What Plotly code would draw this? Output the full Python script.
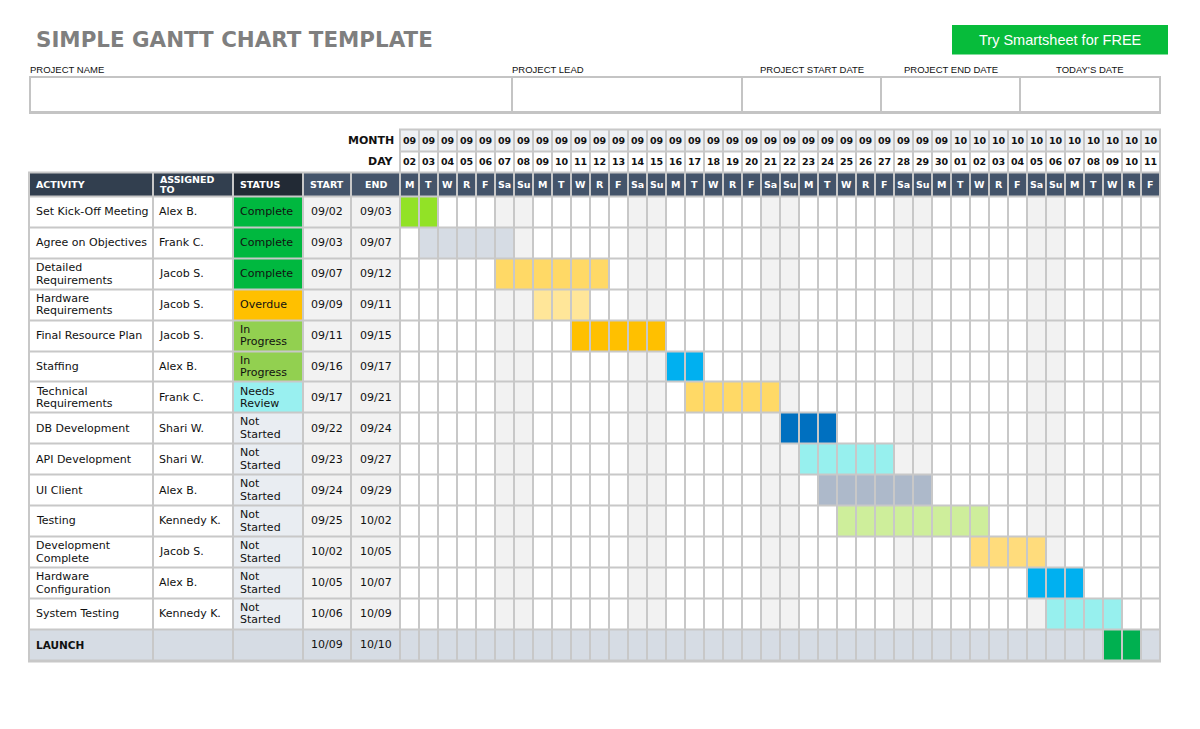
import plotly.graph_objects as go
import pandas as pd

# ---------------- data ----------------
year = 2019
title_text = "SIMPLE GANTT CHART TEMPLATE"
button_text = "Try Smartsheet for FREE"
project_fields = ["PROJECT NAME", "PROJECT LEAD", "PROJECT START DATE", "PROJECT END DATE", "TODAY\u2019S DATE"]
column_headers = ["ACTIVITY", "ASSIGNED TO", "STATUS", "START", "END"]
weekday_letters = ["M", "T", "W", "R", "F", "Sa", "Su"]
timeline_first = "09/02"
timeline_last = "10/11"

activities = ["Set Kick-Off Meeting", "Agree on Objectives", "Detailed Requirements",
              "Hardware Requirements", "Final Resource Plan", "Staffing",
              "Technical Requirements", "DB Development", "API Development", "UI Client",
              "Testing", "Development Complete", "Hardware Configuration", "System Testing",
              "LAUNCH"]
assigned_to = ["Alex B.", "Frank C.", "Jacob S.", "Jacob S.", "Jacob S.", "Alex B.", "Frank C.",
               "Shari W.", "Shari W.", "Alex B.", "Kennedy K.", "Jacob S.", "Alex B.",
               "Kennedy K.", ""]
statuses = ["Complete", "Complete", "Complete", "Overdue", "In Progress", "In Progress",
            "Needs Review", "Not Started", "Not Started", "Not Started", "Not Started",
            "Not Started", "Not Started", "Not Started", ""]
start_dates = ["09/02", "09/03", "09/07", "09/09", "09/11", "09/16", "09/17", "09/22", "09/23",
               "09/24", "09/25", "10/02", "10/05", "10/06", "10/09"]
end_dates = ["09/03", "09/07", "09/12", "09/11", "09/15", "09/17", "09/21", "09/24", "09/27",
             "09/29", "10/02", "10/05", "10/07", "10/09", "10/10"]

# ---------------- styles ----------------
bar_colors = ["#92e226", "#d6dce4", "#ffd966", "#ffe699", "#ffc000", "#00b0f0", "#ffd966",
              "#0070c0", "#97f0ee", "#adb9ca", "#ceee9b", "#ffdc7c", "#00b0f0", "#97f0ee",
              "#00b050"]
status_colors = {"Complete": "#00b83f", "Overdue": "#ffc000", "In Progress": "#92d050",
                 "Needs Review": "#99f0f0", "Not Started": "#e9edf2", "": "#d6dce4"}
header_colors = ["#323f4f", "#323f4f", "#222a35", "#44546a", "#44546a"]
LAUNCH_BG = "#d6dce4"
WEEKEND_BG = "#f2f2f2"
DATE_BG = "#f2f2f2"
MONTH_BG = "#eef0f3"
DAY_BG = "#ffffff"
WEEKDAY_BG = "#44546a"
GRID = "#c8c8c8"
BODY_FONT = "DejaVu Sans"
LABEL_FONT = "Liberation Sans, Arial"

W, H = 1200, 729
TABLE_COLS = [29, 153, 233, 303, 351, 400]
GRID_X = (400, 1160)
HEAD_Y = [129.5, 151, 172.5, 196.5]
BODY_Y = (196.5, 660)
BOX_X = [30, 512, 742, 881, 1020, 1160]
BOX_Y = (77, 112)

# ---------------- helpers ----------------
CW = {'a': 1255, 'b': 1300, 'c': 1126, 'd': 1300, 'e': 1260, 'f': 721, 'g': 1300, 'h': 1298,
      'i': 569, 'j': 569, 'k': 1186, 'l': 569, 'm': 1995, 'n': 1298, 'o': 1253, 'p': 1300,
      'q': 1300, 'r': 842, 's': 1067, 't': 803, 'u': 1298, 'v': 1212, 'w': 1675, 'x': 1212,
      'y': 1212, 'z': 1075, 'A': 1401, 'B': 1405, 'C': 1430, 'D': 1577, 'E': 1294, 'F': 1178,
      'G': 1587, 'H': 1540, 'I': 604, 'J': 604, 'K': 1343, 'L': 1141, 'M': 1767, 'N': 1532,
      'O': 1612, 'P': 1235, 'Q': 1612, 'R': 1423, 'S': 1300, 'T': 1251, 'U': 1499, 'V': 1401,
      'W': 2025, 'X': 1403, 'Y': 1251, 'Z': 1403, ' ': 651, '-': 739, '.': 651}


def text_px(s, size, bold=False):
    return sum(CW.get(ch, 1250) for ch in s) / 2048 * size * (1.1 if bold else 1.0)


def wrap(s, avail, size, bold=False):
    words = s.split(" ")
    lines, cur = [], ""
    for w in words:
        t = (cur + " " + w) if cur else w
        if cur and text_px(t, size, bold) > avail:
            lines.append(cur)
            cur = w
        else:
            cur = t
    lines.append(cur)
    return lines


def to_ts(s):
    m, d = s.split("/")
    return pd.Timestamp(year=year, month=int(m), day=int(d))


days = pd.date_range(to_ts(timeline_first), to_ts(timeline_last))
n_days = len(days)
n_rows = len(activities)
start_idx = [(to_ts(s) - days[0]).days for s in start_dates]
end_idx = [(to_ts(s) - days[0]).days for s in end_dates]
is_milestone = [a == "LAUNCH" for a in activities]


def color_heatmap(colors2d, xe, ye, xaxis, yaxis):
    palette = []
    for row in colors2d:
        for c in row:
            if c is not None and c not in palette:
                palette.append(c)
    n = len(palette)
    z = [[(palette.index(c) + 0.5) if c is not None else None for c in row] for row in colors2d]
    cs = []
    for k, c in enumerate(palette):
        cs += [[k / n, c], [(k + 1) / n, c]]
    return go.Heatmap(z=z, x=xe, y=ye, xaxis=xaxis, yaxis=yaxis, colorscale=cs, zmin=0, zmax=n,
                      showscale=False, xgap=2, ygap=2, hoverinfo="skip")


annotations = []


def ann(text, x, y, xref="x", yref="y", size=11, color="#111111", family=BODY_FONT,
        xanchor="center", yshift=0):
    annotations.append(dict(text=text, x=x, y=y, xref=xref, yref=yref, showarrow=False,
                            font=dict(size=size, color=color, family=family),
                            xanchor=xanchor, yanchor="middle", yshift=yshift,
                            borderpad=0, borderwidth=0))


def ann_lines(lines, x, y, spacing, **kw):
    n = len(lines)
    for k, line in enumerate(lines):
        ann(line, x, y, yshift=((n - 1) / 2 - k) * spacing, **kw)


fig = go.Figure()

# ---------------- grid colors ----------------
left_header = [header_colors]
gantt_header = [[MONTH_BG] * n_days, [DAY_BG] * n_days, [WEEKDAY_BG] * n_days]

left_body, gantt_body = [], []
for r in range(n_rows):
    if is_milestone[r]:
        left_body.append([LAUNCH_BG] * 5)
    else:
        left_body.append(["#ffffff", "#ffffff", status_colors[statuses[r]], DATE_BG, DATE_BG])
    row = []
    for c, d in enumerate(days):
        if start_idx[r] <= c <= end_idx[r]:
            row.append(bar_colors[r])
        elif is_milestone[r]:
            row.append(LAUNCH_BG)
        elif d.dayofweek >= 5:
            row.append(WEEKEND_BG)
        else:
            row.append("#ffffff")
    gantt_body.append(row)

fig.add_trace(color_heatmap(left_header, TABLE_COLS, [HEAD_Y[2], HEAD_Y[3]], "x", "y"))
fig.add_trace(color_heatmap(gantt_header, list(range(n_days + 1)), HEAD_Y, "x2", "y"))
fig.add_trace(color_heatmap(left_body, TABLE_COLS, list(range(n_rows + 1)), "x", "y2"))
fig.add_trace(color_heatmap(gantt_body, list(range(n_days + 1)), list(range(n_rows + 1)), "x2", "y2"))

# grid underlay (gridlines show through heatmap gaps)
shapes = [
    dict(type="rect", xref="x", yref="y", x0=TABLE_COLS[0] - 1, x1=GRID_X[1] + 1,
         y0=BODY_Y[0] - 1, y1=BODY_Y[1] + 2.5, fillcolor=GRID, line_width=0, layer="below"),
    dict(type="rect", xref="x", yref="y", x0=TABLE_COLS[0] - 1, x1=GRID_X[0] + 1,
         y0=HEAD_Y[2] - 1, y1=HEAD_Y[3] + 1, fillcolor=GRID, line_width=0, layer="below"),
    dict(type="rect", xref="x", yref="y", x0=GRID_X[0] - 1, x1=GRID_X[1] + 1,
         y0=HEAD_Y[0] - 1, y1=HEAD_Y[3] + 1, fillcolor=GRID, line_width=0, layer="below"),
]

# project info boxes
for i in range(len(project_fields)):
    shapes.append(dict(type="rect", xref="x", yref="y", x0=BOX_X[i], x1=BOX_X[i + 1],
                       y0=BOX_Y[0], y1=BOX_Y[1], line=dict(color="#c4c4c4", width=2),
                       fillcolor="rgba(0,0,0,0)"))
shapes.append(dict(type="line", xref="x", yref="y", x0=BOX_X[0] - 1, x1=BOX_X[-1] + 1,
                   y0=BOX_Y[1] + 0.5, y1=BOX_Y[1] + 0.5, line=dict(color="#c4c4c4", width=3)))
# button
shapes.append(dict(type="rect", xref="x", yref="y", x0=952, x1=1168, y0=25, y1=54.5,
                   fillcolor="#07bc3b", line_width=0))

# ---------------- texts ----------------
ann("<b>" + title_text + "</b>", 36, 39, size=21.4, color="#7f7f7f", xanchor="left")
ann(button_text, 1060, 40, size=14.5, color="#ffffff", family=LABEL_FONT)
for i, f in enumerate(project_fields):
    if i < 2:
        ann(f, BOX_X[i], 69, size=9.5, color="#111111", family=LABEL_FONT, xanchor="left")
    else:
        ann(f, (BOX_X[i] + BOX_X[i + 1]) / 2, 69, size=9.5, color="#111111", family=LABEL_FONT)

ann("<b>MONTH</b>", 394, (HEAD_Y[0] + HEAD_Y[1]) / 2, size=11, xanchor="right")
ann("<b>DAY</b>", 394, (HEAD_Y[1] + HEAD_Y[2]) / 2, size=11, xanchor="right")

# left column headers
hy = (HEAD_Y[2] + HEAD_Y[3]) / 2
left_x = [36, 159.5, 240]
for j, h in enumerate(column_headers):
    if j < 3:
        lines = wrap(h, TABLE_COLS[j + 1] - TABLE_COLS[j] - 10, 9.5, bold=True)
        ann_lines(["<b>" + l + "</b>" for l in lines], left_x[j], hy, 10,
                  size=9.5, color="#ffffff", xanchor="left")
    else:
        ann("<b>" + h + "</b>", (TABLE_COLS[j] + TABLE_COLS[j + 1]) / 2, hy, size=9.5,
            color="#ffffff")

# timeline headers
for c, d in enumerate(days):
    ann("<b>%02d</b>" % d.month, c + 0.5, (HEAD_Y[0] + HEAD_Y[1]) / 2, xref="x2", size=9.5)
    ann("<b>%02d</b>" % d.day, c + 0.5, (HEAD_Y[1] + HEAD_Y[2]) / 2, xref="x2", size=9.5)
    ann("<b>" + weekday_letters[d.dayofweek] + "</b>", c + 0.5, hy, xref="x2", size=9.5,
        color="#ffffff")

# body text
for r in range(n_rows):
    yc = r + 0.5
    if is_milestone[r]:
        ann("<b>" + activities[r] + "</b>", left_x[0], yc, yref="y2", size=10.5, xanchor="left")
    else:
        ann_lines(wrap(activities[r], TABLE_COLS[1] - TABLE_COLS[0] - 10, 11), left_x[0], yc,
                  12.6, yref="y2", size=11, xanchor="left")
    if assigned_to[r]:
        ann(assigned_to[r], 159, yc, yref="y2", size=11, xanchor="left")
    if statuses[r]:
        ann_lines(wrap(statuses[r], TABLE_COLS[3] - TABLE_COLS[2] - 10, 11), 239.5, yc, 12.6,
                  yref="y2", size=11, xanchor="left")
    ann(start_dates[r], (TABLE_COLS[3] + TABLE_COLS[4]) / 2, yc, yref="y2", size=11)
    ann(end_dates[r], (TABLE_COLS[4] + TABLE_COLS[5]) / 2, yc, yref="y2", size=11)

fig.update_layout(
    width=W, height=H, margin=dict(l=0, r=0, t=0, b=0, pad=0),
    paper_bgcolor="#ffffff", plot_bgcolor="rgba(0,0,0,0)", showlegend=False,
    xaxis=dict(range=[0, W], domain=[0, 1], visible=False, fixedrange=True),
    yaxis=dict(range=[H, 0], domain=[0, 1], visible=False, fixedrange=True),
    xaxis2=dict(range=[0, n_days], domain=[GRID_X[0] / W, GRID_X[1] / W], visible=False,
                anchor="y2", fixedrange=True),
    yaxis2=dict(range=[n_rows, 0], domain=[1 - BODY_Y[1] / H, 1 - BODY_Y[0] / H],
                visible=False, anchor="x2", fixedrange=True),
    shapes=shapes, annotations=annotations,
)

fig.write_html("out.html", config={"displayModeBar": False})
